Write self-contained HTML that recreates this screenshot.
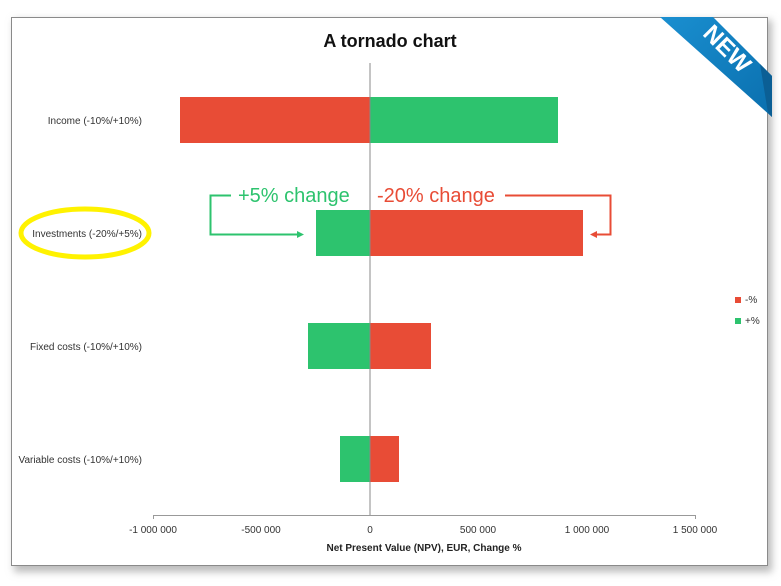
<!DOCTYPE html>
<html><head><style>
html,body{margin:0;padding:0;background:#fff;}
svg{display:block;}
text{font-family:"Liberation Sans",sans-serif;}
</style></head><body>
<svg width="781" height="586" viewBox="0 0 781 586">
<defs>
<filter id="sh" x="-5%" y="-5%" width="110%" height="110%"><feGaussianBlur stdDeviation="4"/></filter>
<linearGradient id="rb" x1="0" y1="0" x2="1" y2="1"><stop offset="0" stop-color="#1a8fd0"/><stop offset="1" stop-color="#0a6fae"/></linearGradient>
</defs>
<rect x="0" y="0" width="781" height="586" fill="#fff"/>
<rect x="14" y="20" width="758" height="552" fill="#bbb" filter="url(#sh)"/>
<rect x="11.5" y="17.5" width="756" height="548" fill="#fff" stroke="#8a8a8a" stroke-width="1"/>
<text x="390" y="47" text-anchor="middle" font-size="18" font-weight="bold" fill="#111">A tornado chart</text>
<!-- ribbon -->
<polygon points="660,17 713,17 772,76 772,117" fill="url(#rb)"/>
<polygon points="760,64 772,76 772,117 768,113" fill="#0b5f95"/>
<text x="0" y="0" font-size="24" font-weight="bold" fill="#fff" transform="translate(726,50) rotate(45)" text-anchor="middle" dominant-baseline="middle">NEW</text>
<!-- bars -->
<rect x="180" y="97" width="190" height="46" fill="#E84C36"/>
<rect x="370" y="97" width="188" height="46" fill="#2DC36E"/>
<rect x="316" y="210" width="54" height="46" fill="#2DC36E"/>
<rect x="370" y="210" width="213" height="46" fill="#E84C36"/>
<rect x="308" y="323" width="62" height="46" fill="#2DC36E"/>
<rect x="370" y="323" width="61" height="46" fill="#E84C36"/>
<rect x="340" y="436" width="30" height="46" fill="#2DC36E"/>
<rect x="370" y="436" width="29" height="46" fill="#E84C36"/>
<line x1="370" y1="63" x2="370" y2="515" stroke="#888" stroke-width="1"/>
<!-- x axis -->
<path d="M153.5,519 V515.5 H695.5 V519" fill="none" stroke="#999" stroke-width="1"/>
<g font-size="10" fill="#333" text-anchor="middle">
<text x="153" y="533">-1 000 000</text>
<text x="261" y="533">-500 000</text>
<text x="370" y="533">0</text>
<text x="478" y="533">500 000</text>
<text x="587" y="533">1 000 000</text>
<text x="695" y="533">1 500 000</text>
</g>
<text x="424" y="551" text-anchor="middle" font-size="10" font-weight="bold" fill="#222">Net Present Value (NPV), EUR, Change %</text>
<!-- categories -->
<g font-size="10" fill="#333" text-anchor="end">
<text x="142" y="124">Income (-10%/+10%)</text>
<text x="142" y="237">Investments (-20%/+5%)</text>
<text x="142" y="350">Fixed costs (-10%/+10%)</text>
<text x="142" y="463">Variable costs (-10%/+10%)</text>
</g>
<ellipse cx="85" cy="233" rx="64" ry="24" fill="none" stroke="#FFF200" stroke-width="5"/>
<!-- legend -->
<rect x="735" y="297" width="6" height="6" fill="#E84C36"/>
<text x="745" y="303" font-size="10" fill="#333">-%</text>
<rect x="735" y="318" width="6" height="6" fill="#2DC36E"/>
<text x="745" y="324" font-size="10" fill="#333">+%</text>
<!-- annotations -->
<text x="238" y="202" font-size="20" fill="#2DC36E">+5% change</text>
<path d="M231,195.5 H210.5 V234.5 H299" fill="none" stroke="#2DC36E" stroke-width="2"/>
<polygon points="304,234.5 297,231 297,238" fill="#2DC36E"/>
<text x="377" y="202" font-size="20" fill="#E84C36">-20% change</text>
<path d="M505,195.5 H610.5 V234.5 H596" fill="none" stroke="#E84C36" stroke-width="2"/>
<polygon points="590,234.5 597,231 597,238" fill="#E84C36"/>
</svg>
</body></html>
